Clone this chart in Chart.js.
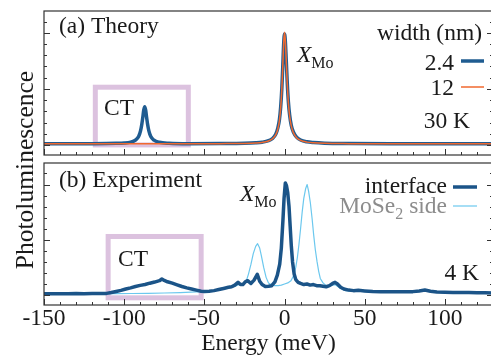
<!DOCTYPE html>
<html>
<head>
<meta charset="utf-8">
<script src="https://cdn.jsdelivr.net/npm/chart.js@4.4.1/dist/chart.umd.min.js"></script>
<style>
  html, body { margin: 0; padding: 0; background: #fff; overflow: hidden; }
  #wrap { position: relative; width: 491px; height: 356px; overflow: hidden; }
  canvas { position: absolute; left: 0; top: 0; }
</style>
</head>
<body>
<div id="wrap">
  <canvas id="theoryChart" width="493" height="356"></canvas>
  <canvas id="exptChart" width="493" height="356"></canvas>
</div>
<script>
// ---- data ----
// (a) theory, width 2.4 nm
const theoryX24 = [-150, -120, -105, -100, -96, -93, -91, -89.8, -89, -88.4, -87.8, -87.2, -86.6, -86, -85.4, -84.6, -83.4, -81.4, -78, -72, -60,
  -40, -25, -18, -14, -10, -7.5, -5.5, -4.2, -3.2, -2.4, -1.7, -1.1, -0.5, 0, 0.5, 1.1, 1.7, 2.4, 3.2, 4.2, 5.5, 7.5, 10, 14, 18, 25, 40, 70, 100, 130];
const theoryY24 = [0.02, 0.022, 0.028, 0.034, 0.05, 0.084, 0.15, 0.25, 0.37, 0.49, 0.62, 0.68, 0.62, 0.49, 0.37, 0.25, 0.15, 0.084, 0.047, 0.03, 0.022,
  0.024, 0.029, 0.037, 0.048, 0.075, 0.116, 0.19, 0.3, 0.45, 0.68, 1.0, 1.4, 1.82, 1.98, 1.85, 1.49, 1.11, 0.77, 0.53, 0.35, 0.23, 0.14, 0.088, 0.055, 0.042, 0.031, 0.025, 0.021, 0.02, 0.02];
// (a) theory, width 12 nm
const theoryX12 = [-150, -60, -40, -25, -18, -14, -10, -7.5, -5.5, -4.2, -3.2, -2.4, -1.7, -1.1, -0.5, 0, 0.5, 1.1, 1.7, 2.4, 3.2, 4.2, 5.5, 7.5, 10, 14, 18, 25, 40, 70, 130];
const theoryY12 = [0.02, 0.02, 0.023, 0.027, 0.034, 0.044, 0.07, 0.11, 0.18, 0.28, 0.43, 0.66, 0.99, 1.4, 1.84, 2.01, 1.86, 1.48, 1.09, 0.75, 0.51, 0.34, 0.22, 0.13, 0.082, 0.05, 0.038, 0.028, 0.023, 0.02, 0.02];

// (b) experiment, interface
const interfaceX = [-150, -145, -140, -135, -130, -125, -120, -115, -111, -108, -105, -102, -99, -96, -93, -90, -87, -84, -81, -78, -76.5, -75, -73, -70, -67, -64, -61, -58, -55, -52, -50,
  -47, -44, -41, -38, -35, -33, -31, -29, -27.5, -26, -24.5, -23, -21, -19, -17, -15.5, -14, -12, -10, -8, -6, -4.5, -3, -2, -1, -0.3, 0.5, 1.2, 2, 2.8, 3.5, 4.2, 5, 6, 7, 8.5,
  10, 12, 14, 16, 18, 20, 22, 24, 26, 28, 30, 31.5, 33, 35, 37, 40, 43, 46, 50, 55, 60, 65, 70, 75, 80, 84, 87.5, 91, 95, 100, 105, 110, 115, 120, 125, 130];
const interfaceY = [0.025, 0.022, 0.025, 0.023, 0.026, 0.024, 0.027, 0.028, 0.03, 0.045, 0.065, 0.085, 0.11, 0.13, 0.155, 0.175, 0.19, 0.215, 0.235, 0.26, 0.29, 0.265, 0.24, 0.215, 0.185, 0.155, 0.13, 0.11, 0.09, 0.07, 0.065,
  0.07, 0.08, 0.1, 0.12, 0.14, 0.15, 0.18, 0.23, 0.19, 0.19, 0.24, 0.26, 0.21, 0.27, 0.375, 0.25, 0.19, 0.155, 0.16, 0.17, 0.24, 0.36, 0.56, 0.85, 1.35, 1.75, 2.03, 1.98, 1.85, 1.6, 1.25, 0.9, 0.6, 0.38, 0.28, 0.23,
  0.21, 0.19, 0.2, 0.18, 0.19, 0.17, 0.17, 0.16, 0.15, 0.17, 0.21, 0.23, 0.2, 0.14, 0.11, 0.09, 0.08, 0.085, 0.075, 0.065, 0.06, 0.058, 0.06, 0.058, 0.062, 0.075, 0.09, 0.07, 0.055, 0.05, 0.048, 0.045, 0.044, 0.04, 0.04, 0.038];
// (b) experiment, MoSe2 side
const sideX = [-150, -130, -115, -105, -95, -85, -75, -65, -55, -48, -42, -37, -33, -30, -28, -26, -24, -22.5, -21, -19.5, -18, -16.8, -15.5, -14.5, -13, -11.5, -10, -8, -6, -4, -2, 0, 2, 4, 5.8,
  7, 8, 9, 10, 11, 12, 13.2, 14.1, 15, 16.1, 17.2, 18.2, 19.2, 20.3, 21.3, 22.3, 24, 26, 28, 30, 31.5, 33, 35, 38, 42, 48, 55, 65, 75, 84, 88, 92, 100, 115, 130];
const sideY = [0.022, 0.022, 0.024, 0.025, 0.028, 0.032, 0.037, 0.045, 0.058, 0.068, 0.09, 0.115, 0.14, 0.17, 0.2, 0.19, 0.24, 0.38, 0.55, 0.75, 0.88, 0.93, 0.85, 0.72, 0.5, 0.32, 0.22, 0.18, 0.17, 0.17, 0.18, 0.2, 0.22, 0.26, 0.36,
  0.5, 0.68, 0.92, 1.2, 1.5, 1.75, 1.93, 2.0, 1.88, 1.67, 1.38, 1.08, 0.82, 0.6, 0.43, 0.3, 0.22, 0.17, 0.16, 0.18, 0.19, 0.16, 0.12, 0.08, 0.07, 0.065, 0.055, 0.05, 0.05, 0.065, 0.08, 0.06, 0.045, 0.04, 0.036];

// axes
const xRange = [-150, 130];
const yRange = [-0.18, 2.39];
const xTickLabels = [-150, -100, -50, 0, 50, 100];
const xMinorTicks = [-140, -130, -120, -110, -90, -80, -70, -60, -40, -30, -20, -10, 10, 20, 30, 40, 60, 70, 80, 90, 110, 120];
const yMajorTicks = [0, 1, 2];
const yMinorTicks = [0.2, 0.4, 0.6, 0.8, 1.2, 1.4, 1.6, 1.8, 2.2];

// CT boxes [xmin, xmax, ymin, ymax]
const ctBoxTheory = [-118, -60, 0.0, 1.03];
const ctBoxExpt = [-110, -52, -0.05, 1.06];

const SERIF = "'Liberation Serif', 'DejaVu Serif', serif";
const INK = '#1a1a1a';

const pts = (xs, ys) => xs.map((x, i) => ({ x: x, y: ys[i] }));

function drawRich(ctx, item) {
  const parts = item.parts;
  let total = 0;
  parts.forEach(p => {
    ctx.font = (p.italic ? 'italic ' : '') + (p.sub ? 16 : 23.5) + 'px ' + SERIF;
    p.w = ctx.measureText(p.t).width;
    total += p.w;
  });
  let x = item.align === 'right' ? item.x - total : item.x;
  parts.forEach(p => {
    ctx.font = (p.italic ? 'italic ' : '') + (p.sub ? 16 : 23.5) + 'px ' + SERIF;
    ctx.fillStyle = item.color || INK;
    ctx.textAlign = 'left';
    ctx.textBaseline = 'alphabetic';
    ctx.fillText(p.t, x, item.y + (p.sub ? 6 : 0));
    x += p.w;
  });
}

const decor = {
  id: 'decor',
  beforeDatasetsDraw(chart, args, opts) {
    const { ctx } = chart;
    const xs = chart.scales.x, ys = chart.scales.y;
    const b = opts.box;
    const l = xs.getPixelForValue(b[0]), r = xs.getPixelForValue(b[1]);
    const t = ys.getPixelForValue(b[3]), bt = ys.getPixelForValue(b[2]);
    ctx.save();
    ctx.strokeStyle = '#dcc2df';
    ctx.lineWidth = 5;
    ctx.strokeRect(l, t, r - l, bt - t);
    ctx.restore();
  },
  afterDraw(chart, args, opts) {
    const { ctx, chartArea: a } = chart;
    const xs = chart.scales.x, ys = chart.scales.y;
    ctx.save();
    // frame
    ctx.strokeStyle = '#333';
    ctx.lineWidth = 1.2;
    ctx.strokeRect(a.left, a.top, a.right - a.left, a.bottom - a.top);
    // inward ticks
    ctx.beginPath();
    xTickLabels.concat(xMinorTicks).forEach(v => {
      const px = Math.round(xs.getPixelForValue(v)) + 0.5;
      const len = xTickLabels.includes(v) ? 6 : 3;
      ctx.moveTo(px, a.bottom); ctx.lineTo(px, a.bottom - len);
    });
    yMajorTicks.concat(yMinorTicks).forEach(v => {
      const py = Math.round(ys.getPixelForValue(v)) + 0.5;
      const len = yMajorTicks.includes(v) ? 6 : 3;
      ctx.moveTo(a.left, py); ctx.lineTo(a.left + len, py);
      ctx.moveTo(a.right, py); ctx.lineTo(a.right - len, py);
    });
    ctx.lineWidth = 1;
    ctx.stroke();
    // legend keys
    (opts.keys || []).forEach(k => {
      const ds = chart.data.datasets[k.ds];
      ctx.beginPath();
      ctx.strokeStyle = ds.borderColor;
      ctx.lineWidth = ds.borderWidth;
      ctx.moveTo(k.x1, k.y); ctx.lineTo(k.x2, k.y);
      ctx.stroke();
    });
    // texts
    (opts.texts || []).forEach(item => drawRich(ctx, item));
    if (opts.ylabel) {
      ctx.translate(opts.ylabel.x, opts.ylabel.y);
      ctx.rotate(-Math.PI / 2);
      ctx.font = '25.5px ' + SERIF;
      ctx.fillStyle = INK;
      ctx.textAlign = 'center';
      ctx.textBaseline = 'middle';
      ctx.fillText(opts.ylabel.t, 0, 0);
    }
    ctx.restore();
  }
};

const hiddenY = { min: yRange[0], max: yRange[1], display: false };

new Chart(document.getElementById('theoryChart'), {
  type: 'line',
  data: {
    datasets: [
      { label: '2.4', data: pts(theoryX24, theoryY24), borderColor: '#1f5c91', borderWidth: 3.5, order: 2 },
      { label: '12', data: pts(theoryX12, theoryY12), borderColor: '#f0692f', borderWidth: 1.5, order: 1 }
    ]
  },
  options: {
    responsive: false, animation: false, devicePixelRatio: 1,
    layout: { padding: { left: 44, top: 11, right: 0, bottom: 201 } },
    elements: { point: { radius: 0 }, line: { cubicInterpolationMode: 'monotone', borderJoinStyle: 'round' } },
    scales: {
      x: { type: 'linear', min: xRange[0], max: xRange[1], display: false },
      y: hiddenY
    },
    plugins: {
      legend: { display: false }, tooltip: { enabled: false },
      decor: {
        box: ctBoxTheory,
        keys: [{ ds: 0, x1: 461, x2: 484, y: 61 }, { ds: 1, x1: 461, x2: 484, y: 87 }],
        texts: [
          { parts: [{ t: '(a) Theory' }], x: 59, y: 33 },
          { parts: [{ t: 'X', italic: true }, { t: 'Mo', sub: true }], x: 297, y: 62 },
          { parts: [{ t: 'CT' }], x: 104, y: 115 },
          { parts: [{ t: 'width (nm)' }], x: 482, y: 40, align: 'right' },
          { parts: [{ t: '2.4' }], x: 454, y: 69.5, align: 'right' },
          { parts: [{ t: '12' }], x: 454, y: 94.5, align: 'right' },
          { parts: [{ t: '30 K' }], x: 470, y: 128, align: 'right' }
        ]
      }
    }
  },
  plugins: [decor]
});

new Chart(document.getElementById('exptChart'), {
  type: 'line',
  data: {
    datasets: [
      { label: 'interface', data: pts(interfaceX, interfaceY), borderColor: '#1b5488', borderWidth: 3.5, order: 1 },
      { label: 'MoSe2 side', data: pts(sideX, sideY), borderColor: '#6cc8ee', borderWidth: 1.2, order: 2 }
    ]
  },
  options: {
    responsive: false, animation: false, devicePixelRatio: 1,
    layout: { padding: { left: 44, top: 163, right: 0, bottom: 0 } },
    elements: { point: { radius: 0 }, line: { tension: 0, borderJoinStyle: 'round' } },
    scales: {
      x: {
        type: 'linear', min: xRange[0], max: xRange[1],
        afterBuildTicks: scale => { scale.ticks = xTickLabels.map(v => ({ value: v })); },
        grid: { display: false, drawTicks: false },
        border: { display: false },
        ticks: { autoSkip: false, maxRotation: 0, padding: 2, color: INK, callback: v => String(v),
                 font: { family: SERIF, size: 23.5, lineHeight: 1 } },
        title: { display: true, text: 'Energy (meV)', color: INK, padding: { top: 0, bottom: 0 },
                 font: { family: SERIF, size: 23.5, lineHeight: 1 } }
      },
      y: hiddenY
    },
    plugins: {
      legend: { display: false }, tooltip: { enabled: false },
      decor: {
        box: ctBoxExpt,
        keys: [{ ds: 0, x1: 453, x2: 477, y: 187 }, { ds: 1, x1: 453, x2: 477, y: 206 }],
        texts: [
          { parts: [{ t: '(b) Experiment' }], x: 59, y: 187 },
          { parts: [{ t: 'X', italic: true }, { t: 'Mo', sub: true }], x: 240, y: 201 },
          { parts: [{ t: 'CT' }], x: 118, y: 266 },
          { parts: [{ t: 'interface' }], x: 447, y: 193, align: 'right' },
          { parts: [{ t: 'MoSe' }, { t: '2', sub: true }, { t: ' side' }], x: 447, y: 213, align: 'right', color: '#8c8c8c' },
          { parts: [{ t: '4 K' }], x: 479, y: 280, align: 'right' }
        ],
        ylabel: { t: 'Photoluminescence', x: 26, y: 170 }
      }
    }
  },
  plugins: [decor]
});
</script>
</body>
</html>
